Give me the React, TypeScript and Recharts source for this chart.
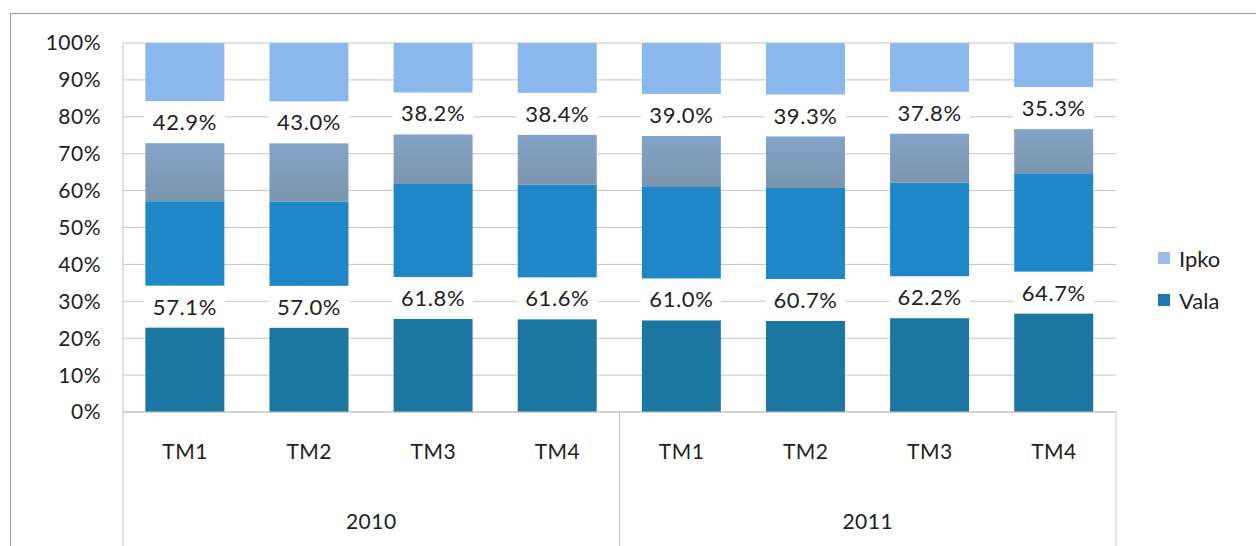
import React from 'react';
import {
  BarChart,
  Bar,
  XAxis,
  YAxis,
  CartesianGrid,
  LabelList,
} from 'recharts';

// quarters and years of the two-level category axis
const quarters = ['TM1', 'TM2', 'TM3', 'TM4', 'TM1', 'TM2', 'TM3', 'TM4'];
const years = ['2010', '2010', '2010', '2010', '2011', '2011', '2011', '2011'];

// market share, percent
const vala = [57.1, 57.0, 61.8, 61.6, 61.0, 60.7, 62.2, 64.7];
const ipko = [42.9, 43.0, 38.2, 38.4, 39.0, 39.3, 37.8, 35.3];

const yTicks = [0, 10, 20, 30, 40, 50, 60, 70, 80, 90, 100];

const data = quarters.map((q, i) => ({
  idx: i,
  quarter: q,
  year: years[i],
  Vala: vala[i],
  Ipko: ipko[i],
}));

const W = 1256;
const H = 546;
const PLOT_LEFT = 123;
const PLOT_RIGHT = 1116;
const PLOT_TOP = 43;
const PLOT_BOTTOM = 412;
const QUARTER_AXIS_H = 50;
const YEAR_AXIS_H = H - PLOT_BOTTOM - QUARTER_AXIS_H;
const BAND = (PLOT_RIGHT - PLOT_LEFT) / quarters.length;

const FONT = 'Lato, "Open Sans", sans-serif';
const TEXT = '#222';
const LINE = '#c4c4c4';

// white "cut" behind each value label, as in the scanned original
const GapLabel = (props: any) => {
  const { x, y, width, height, value } = props;
  const cy = y + height / 2;
  return (
    <g>
      <rect x={x - 1} y={cy - 21} width={width + 2} height={42} fill="#fff" />
      <text
        x={x + width / 2}
        y={cy + 8}
        textAnchor="middle"
        fontFamily={FONT}
        fontSize={22}
        letterSpacing={0.6}
        fill={TEXT}
      >
        {`${Number(value).toFixed(1)}%`}
      </text>
    </g>
  );
};

const QuarterTick = (props: any) => {
  const { x, y, payload } = props;
  return (
    <text x={x} y={y} textAnchor="middle" fontFamily={FONT} fontSize={21} letterSpacing={0.5} fill={TEXT}>
      {quarters[payload.value]}
    </text>
  );
};

const YearTick = (props: any) => {
  const { x, y, payload } = props;
  const i = payload.value as number;
  const yr = years[i];
  const first = i === 0 || years[i - 1] !== yr;
  const last = i === years.length - 1 || years[i + 1] !== yr;
  const count = years.filter((v) => v === yr).length;
  const top = y - QUARTER_AXIS_H;
  const bottom = y + YEAR_AXIS_H;
  return (
    <g>
      {first && (
        <line x1={x - BAND / 2} x2={x - BAND / 2} y1={top} y2={bottom} stroke={LINE} />
      )}
      {last && (
        <line x1={x + BAND / 2} x2={x + BAND / 2} y1={top} y2={bottom} stroke={LINE} />
      )}
      {first && (
        <text
          x={x + ((count - 1) * BAND) / 2}
          y={y + 67}
          textAnchor="middle"
          fontFamily={FONT}
          fontSize={21}
          letterSpacing={0.5}
          fill={TEXT}
        >
          {yr}
        </text>
      )}
    </g>
  );
};

const legendItems = [
  { name: 'Ipko', color: '#9dbde9' },
  { name: 'Vala', color: '#1f78b6' },
];

export default function App() {
  return (
    <div
      style={{
        position: 'absolute',
        left: 0,
        top: 0,
        width: W,
        height: H,
        background: '#fff',
        overflow: 'hidden',
      }}
    >
      <div
        style={{
          position: 'absolute',
          left: 10,
          top: 13,
          width: W,
          height: H,
          borderTop: '1px solid #9a9a9a',
          borderLeft: '1px solid #9a9a9a',
        }}
      />
      <BarChart
        width={W}
        height={H}
        data={data}
        margin={{ top: PLOT_TOP, right: W - PLOT_RIGHT, bottom: 0, left: 0 }}
        barCategoryGap="18%"
      >
        <defs>
          <linearGradient id="valaFill" x1="0" y1="0" x2="0" y2="1">
            <stop offset="0%" stopColor="#1f87c8" />
            <stop offset="50%" stopColor="#1f87c8" />
            <stop offset="50%" stopColor="#1b76a1" />
            <stop offset="100%" stopColor="#1b76a1" />
          </linearGradient>
          <linearGradient id="ipkoFill" x1="0" y1="0" x2="0" y2="1">
            <stop offset="0%" stopColor="#8bb8ec" />
            <stop offset="50%" stopColor="#8bb8ec" />
            <stop offset="50%" stopColor="#86a8d4" />
            <stop offset="100%" stopColor="#7b96ad" />
          </linearGradient>
        </defs>
        <CartesianGrid vertical={false} stroke={LINE} />
        <XAxis
          xAxisId="q"
          dataKey="idx"
          type="category"
          height={QUARTER_AXIS_H}
          tickSize={0}
          tickMargin={47}
          axisLine={{ stroke: LINE }}
          tick={<QuarterTick />}
          interval={0}
        />
        <XAxis
          xAxisId="y"
          dataKey="idx"
          type="category"
          height={YEAR_AXIS_H}
          tickSize={0}
          tickMargin={0}
          axisLine={false}
          tick={<YearTick />}
          interval={0}
        />
        <YAxis
          width={PLOT_LEFT}
          domain={[0, 100]}
          ticks={yTicks}
          tickFormatter={(v) => `${v}%`}
          tickSize={0}
          tickMargin={22}
          axisLine={{ stroke: LINE }}
          tick={{ fontFamily: FONT, fontSize: 21, fill: TEXT, letterSpacing: 0.5 }}
        />
        <Bar
          xAxisId="q"
          dataKey="Vala"
          stackId="s"
          fill="url(#valaFill)"
          isAnimationActive={false}
        >
          <LabelList dataKey="Vala" content={<GapLabel />} />
        </Bar>
        <Bar
          xAxisId="q"
          dataKey="Ipko"
          stackId="s"
          fill="url(#ipkoFill)"
          isAnimationActive={false}
        >
          <LabelList dataKey="Ipko" content={<GapLabel />} />
        </Bar>
      </BarChart>
      <div style={{ position: 'absolute', left: 1158, top: 245, fontFamily: FONT }}>
        {legendItems.map((it) => (
          <div
            key={it.name}
            style={{ display: 'flex', alignItems: 'center', height: 26, marginBottom: 16 }}
          >
            <span
              style={{ width: 12, height: 12, background: it.color, display: 'inline-block', marginRight: 9 }}
            />
            <span style={{ fontSize: 22, color: TEXT }}>{it.name}</span>
          </div>
        ))}
      </div>
    </div>
  );
}
